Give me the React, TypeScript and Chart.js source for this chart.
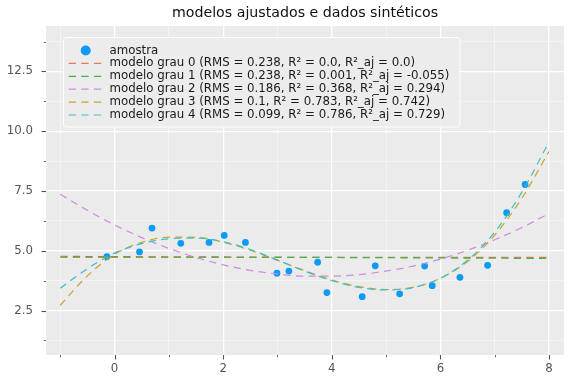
import React, { useEffect, useRef } from 'react';
import { Chart, registerables } from 'chart.js';

Chart.register(...registerables);

// ---- data ----
const titleText = 'modelos ajustados e dados sintéticos';

const sampleX = [-0.14, 0.46, 0.69, 1.22, 1.74, 2.02, 2.41, 2.99, 3.21, 3.74, 3.91, 4.56, 4.80, 5.25, 5.71, 5.85, 6.36, 6.87, 7.22, 7.56];
const sampleY = [4.75, 4.95, 5.95, 5.31, 5.35, 5.64, 5.35, 4.06, 4.15, 4.52, 3.25, 3.08, 4.37, 3.20, 4.36, 3.54, 3.89, 4.39, 6.59, 7.77];

const curveX = [-1, -0.5, 0, 0.5, 1, 1.5, 2, 2.5, 3, 3.5, 4, 4.5, 5, 5.5, 6, 6.5, 7, 7.5, 8];
const grau0 = [4.72, 4.72, 4.72, 4.72, 4.72, 4.72, 4.72, 4.72, 4.72, 4.72, 4.72, 4.72, 4.72, 4.72, 4.72, 4.72, 4.72, 4.72, 4.72];
const grau1 = [4.77, 4.76, 4.76, 4.75, 4.75, 4.74, 4.74, 4.73, 4.73, 4.72, 4.72, 4.71, 4.71, 4.70, 4.70, 4.69, 4.69, 4.68, 4.68];
const grau2 = [7.36, 6.69, 6.08, 5.55, 5.10, 4.72, 4.41, 4.18, 4.03, 3.94, 3.94, 4.00, 4.15, 4.36, 4.65, 5.02, 5.46, 5.97, 6.56];
const grau3 = [2.72, 3.95, 4.85, 5.35, 5.57, 5.56, 5.36, 5.02, 4.60, 4.17, 3.78, 3.50, 3.38, 3.47, 3.85, 4.55, 5.65, 7.20, 9.15];
const grau4 = [3.43, 4.25, 4.90, 5.30, 5.50, 5.53, 5.38, 5.05, 4.61, 4.15, 3.75, 3.47, 3.36, 3.46, 3.85, 4.60, 5.78, 7.45, 9.55];

const sampleLabel = 'amostra';
const modelLabels = [
  'modelo grau 0 (RMS = 0.238, R² = 0.0, R²_aj = 0.0)',
  'modelo grau 1 (RMS = 0.238, R² = 0.001, R²_aj = -0.055)',
  'modelo grau 2 (RMS = 0.186, R² = 0.368, R²_aj = 0.294)',
  'modelo grau 3 (RMS = 0.1, R² = 0.783, R²_aj = 0.742)',
  'modelo grau 4 (RMS = 0.099, R² = 0.786, R²_aj = 0.729)',
];
const modelSeries = [grau0, grau1, grau2, grau3, grau4];
const modelColors = ['#E8785A', '#45B04A', '#CF8BE0', '#C9A22D', '#3DBFC6'];
const sampleColor = '#0A9CF5';

const xTickValues = [-1, 0, 1, 2, 3, 4, 5, 6, 7, 8];
const xLabelValues = [0, 2, 4, 6, 8];
const yTickValues = [1.25, 2.5, 3.75, 5, 6.25, 7.5, 8.75, 10, 11.25, 12.5, 13.75];
const yLabelValues = [2.5, 5, 7.5, 10, 12.5];

const X_MIN = -1.262;
const X_MAX = 8.276;
const Y_MIN = 0.64;
const Y_MAX = 14.4;

const FONT = "'DejaVu Sans', 'Liberation Sans', sans-serif";
const DASH = [7.3, 5.3];
const LW = 1.2;
const BG = '#EBEBEB';

const isXMajor = (v: number) => xLabelValues.some((m) => Math.abs(m - v) < 1e-6);
const isYMajor = (v: number) => yLabelValues.some((m) => Math.abs(m - v) < 1e-6);

const decorPlugin = {
  id: 'decor',
  beforeDraw(chart: any) {
    const { ctx, chartArea } = chart;
    ctx.save();
    ctx.fillStyle = '#FFFFFF';
    ctx.fillRect(0, 0, chart.width, chart.height);
    ctx.fillStyle = BG;
    ctx.fillRect(chartArea.left, chartArea.top, chartArea.right - chartArea.left, chartArea.bottom - chartArea.top);
    ctx.restore();
  },
  afterDraw(chart: any) {
    const { ctx, chartArea } = chart;
    const xs = chart.scales.x;
    const ys = chart.scales.y;
    ctx.save();
    // tick marks
    ctx.strokeStyle = '#555555';
    for (const v of yTickValues) {
      const p = Math.round(ys.getPixelForValue(v)) + 0.5;
      const major = isYMajor(v);
      ctx.lineWidth = major ? 1.1 : 0.9;
      ctx.beginPath();
      ctx.moveTo(chartArea.left - (major ? 4.5 : 2.2), p);
      ctx.lineTo(chartArea.left, p);
      ctx.stroke();
    }
    for (const v of xTickValues) {
      const p = Math.round(xs.getPixelForValue(v)) + 0.5;
      const major = isXMajor(v);
      ctx.lineWidth = major ? 1.1 : 0.9;
      ctx.beginPath();
      ctx.moveTo(p, chartArea.bottom);
      ctx.lineTo(p, chartArea.bottom + (major ? 4.5 : 2.2));
      ctx.stroke();
    }
    // title
    ctx.fillStyle = '#111111';
    ctx.font = `14.2px ${FONT}`;
    ctx.textAlign = 'center';
    ctx.textBaseline = 'alphabetic';
    ctx.fillText(titleText, (chartArea.left + chartArea.right) / 2, 16.8);

    // legend
    const bx = 63.5, by = 37.5, bw = 396.5, bh = 89.5, r = 3;
    ctx.beginPath();
    ctx.moveTo(bx + r, by);
    ctx.lineTo(bx + bw - r, by);
    ctx.quadraticCurveTo(bx + bw, by, bx + bw, by + r);
    ctx.lineTo(bx + bw, by + bh - r);
    ctx.quadraticCurveTo(bx + bw, by + bh, bx + bw - r, by + bh);
    ctx.lineTo(bx + r, by + bh);
    ctx.quadraticCurveTo(bx, by + bh, bx, by + bh - r);
    ctx.lineTo(bx, by + r);
    ctx.quadraticCurveTo(bx, by, bx + r, by);
    ctx.closePath();
    ctx.fillStyle = 'rgba(235,235,235,0.92)';
    ctx.fill();
    ctx.strokeStyle = 'rgba(255,255,255,0.95)';
    ctx.lineWidth = 1;
    ctx.stroke();

    const rowY0 = 50.5;
    const rowH = 12.9;
    const hx0 = 68.7, hx1 = 102.7;
    const tx = 109.5;
    ctx.font = `11.8px ${FONT}`;
    ctx.textAlign = 'left';
    ctx.textBaseline = 'middle';
    // sample marker
    ctx.fillStyle = sampleColor;
    ctx.beginPath();
    ctx.arc((hx0 + hx1) / 2, rowY0, 5, 0, Math.PI * 2);
    ctx.fill();
    ctx.fillStyle = '#1A1A1A';
    ctx.fillText(sampleLabel, tx, rowY0);
    modelLabels.forEach((lab, i) => {
      const y = rowY0 + (i + 1) * rowH;
      ctx.strokeStyle = modelColors[i];
      ctx.lineWidth = LW;
      ctx.setLineDash(DASH);
      ctx.beginPath();
      ctx.moveTo(hx0, y);
      ctx.lineTo(hx1, y);
      ctx.stroke();
      ctx.setLineDash([]);
      ctx.fillStyle = '#1A1A1A';
      ctx.fillText(lab, tx, y);
    });
    ctx.restore();
  },
};

export default function App() {
  const ref = useRef<HTMLCanvasElement>(null);
  useEffect(() => {
    const canvas = ref.current;
    if (!canvas) return;
    const datasets: any[] = [
      {
        label: sampleLabel,
        data: sampleX.map((x, i) => ({ x, y: sampleY[i] })),
        showLine: false,
        pointRadius: 3.4,
        pointBackgroundColor: sampleColor,
        pointBorderWidth: 0,
        borderColor: sampleColor,
        order: 10,
      },
      ...modelSeries.map((ys, i) => ({
        label: modelLabels[i],
        data: curveX.map((x, j) => ({ x, y: ys[j] })),
        showLine: true,
        pointRadius: 0,
        borderColor: modelColors[i],
        borderWidth: LW,
        borderDash: DASH,
        cubicInterpolationMode: 'monotone',
        fill: false,
        order: 5 - i,
      })),
    ];
    const chart = new Chart(canvas, {
      type: 'scatter',
      data: { datasets },
      plugins: [decorPlugin],
      options: {
        animation: false,
        responsive: false,
        devicePixelRatio: 1,
        layout: { padding: { top: 26, right: 12, left: 0, bottom: 0 } },
        plugins: {
          legend: { display: false },
          title: { display: false },
          tooltip: { enabled: false },
        },
        scales: {
          x: {
            type: 'linear',
            min: X_MIN,
            max: X_MAX,
            afterBuildTicks: (s: any) => {
              s.ticks = xTickValues.map((v) => ({ value: v }));
            },
            afterFit: (s: any) => {
              s.height = 29;
            },
            border: { display: false },
            grid: {
              drawTicks: false,
              color: (c: any) => (c.tick && isXMajor(c.tick.value) ? '#FFFFFF' : 'rgba(255,255,255,0.6)'),
              lineWidth: (c: any) => (c.tick && isXMajor(c.tick.value) ? 1.3 : 0.8),
            },
            ticks: {
              padding: 7,
              color: '#555555',
              font: { family: FONT, size: 11.8 },
              maxRotation: 0,
              autoSkip: false,
              callback: (v: any) => (isXMajor(Number(v)) ? String(v) : ''),
            },
          },
          y: {
            type: 'linear',
            min: Y_MIN,
            max: Y_MAX,
            afterBuildTicks: (s: any) => {
              s.ticks = yTickValues.map((v) => ({ value: v }));
            },
            afterFit: (s: any) => {
              s.width = 46;
            },
            border: { display: false },
            grid: {
              drawTicks: false,
              color: (c: any) => (c.tick && isYMajor(c.tick.value) ? '#FFFFFF' : 'rgba(255,255,255,0.6)'),
              lineWidth: (c: any) => (c.tick && isYMajor(c.tick.value) ? 1.3 : 0.8),
            },
            ticks: {
              padding: 13,
              color: '#555555',
              font: { family: FONT, size: 11.8 },
              autoSkip: false,
              callback: (v: any) => (isYMajor(Number(v)) ? Number(v).toFixed(1) : ''),
            },
          },
        },
      } as any,
    });
    return () => chart.destroy();
  }, []);
  return (
    <div style={{ position: 'absolute', left: 0, top: 0, width: 576, height: 384, background: '#fff' }}>
      <canvas ref={ref} width={576} height={384} style={{ display: 'block' }} />
    </div>
  );
}
